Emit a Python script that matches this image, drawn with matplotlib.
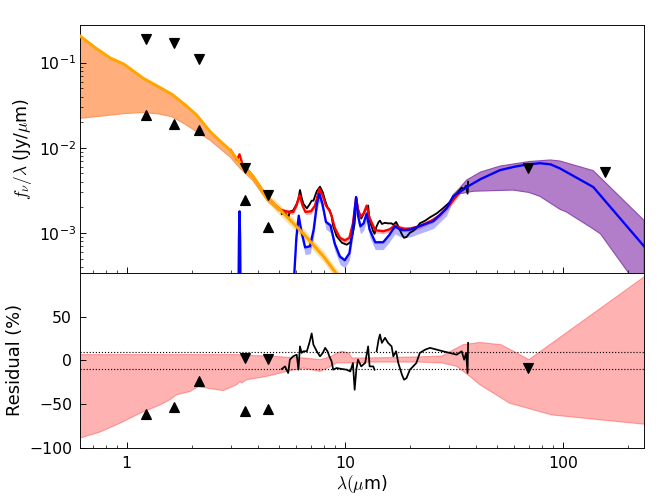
import numpy as np
import matplotlib
matplotlib.use('Agg')
from matplotlib import pyplot as plt
from matplotlib import ticker

plt.rcParams['font.size'] = 13.5
plt.rcParams['mathtext.fontset'] = 'cm'

# stellar component (orange line)
lam_star = [0.61, 0.72, 0.84, 0.965, 1.19, 1.40, 1.61, 1.85, 2.09, 2.41, 2.70, 2.98, 3.31, 3.81,
            4.38, 4.88, 5.5, 6.24, 7.0, 8.0, 9.02, 10.5, 12.0]
star = [0.205, 0.148, 0.113, 0.0966, 0.0655, 0.052, 0.0425, 0.032, 0.0243, 0.0155, 0.0118, 0.0094,
        0.0066, 0.00456, 0.00265, 0.00204, 0.0015, 0.00108, 0.00078, 0.00053, 0.00035, 0.00023, 0.00015]
# lower edge of the wide band at short wavelengths
lam_star_lo = [0.61, 0.75, 1.0, 1.2, 1.4, 1.61, 1.85, 2.09, 2.41, 2.98, 3.3, 3.8, 4.4, 5.0]
star_lo = [0.0222, 0.0235, 0.0254, 0.026, 0.025, 0.0232, 0.019, 0.0155, 0.0123, 0.0078, 0.0058,
           0.0041, 0.0024, 0.0018]
# narrow band at longer wavelengths
lam_star_band = [3.31, 3.81, 4.38, 4.88, 5.5, 6.24, 7.0, 8.0, 9.02, 10.5, 12.0]
star_band_hi = [0.0069, 0.0049, 0.00295, 0.00232, 0.00172, 0.00125, 0.0009, 0.00061, 0.0004, 0.00026, 0.00017]
star_band_lo = [0.0062, 0.0041, 0.00236, 0.00175, 0.0013, 0.00093, 0.00067, 0.00046, 0.0003, 0.0002, 0.00013]

# total model (red line)
lam_tot = [3.0, 3.2, 3.29, 3.38, 3.81, 4.38, 4.88, 5.13, 5.5, 5.8, 6.0, 6.2, 6.4, 6.6, 7.0, 7.3, 7.65,
           7.9, 8.2, 8.5, 8.7, 9.0, 9.5, 10.0, 10.5, 10.9, 11.27, 11.5, 11.8, 12.2, 12.6, 13.0, 13.8,
           15.0, 16.0, 17.0, 18.0, 19.0, 20.0, 22.0, 25.0, 27.3, 30.0, 33.8]
tot = [0.0094, 0.0072, 0.0084, 0.0066, 0.00456, 0.00268, 0.00205, 0.00185, 0.00178, 0.00177, 0.0021,
       0.0028, 0.0021, 0.00177, 0.0018, 0.0021, 0.0033, 0.0028, 0.0021, 0.00185, 0.0016, 0.00115,
       0.00088, 0.00082, 0.00088, 0.0013, 0.0026, 0.0019, 0.00155, 0.0017, 0.0021, 0.0015, 0.00108,
       0.00105, 0.0011, 0.00123, 0.00115, 0.00112, 0.00113, 0.0012, 0.0014, 0.00162, 0.0021, 0.00305]
lam_tot_band = [5.13, 5.5, 5.8, 6.0, 6.2, 6.4, 6.6, 7.0, 7.3, 7.65, 7.9, 8.2, 8.5, 8.7, 9.0, 9.5, 10.0,
                10.5, 10.9, 11.27, 11.5, 11.8, 12.2, 12.6, 13.0, 13.8, 15.0, 16.0, 17.0, 18.0, 19.0,
                20.0, 22.0, 25.0, 27.3, 30.0, 33.8]
tot_hi = [0.00196, 0.00189, 0.00188, 0.00223, 0.00297, 0.00223, 0.00188, 0.00191, 0.00223, 0.0035,
          0.00297, 0.00223, 0.00196, 0.0017, 0.00122, 0.00093, 0.00087, 0.00093, 0.00138, 0.00276,
          0.00201, 0.00164, 0.0018, 0.00223, 0.00159, 0.00114, 0.00111, 0.00117, 0.0013, 0.00122,
          0.00119, 0.0012, 0.00127, 0.00148, 0.00172, 0.00223, 0.00323]
tot_lo = [0.00172, 0.00166, 0.00165, 0.00195, 0.0026, 0.00195, 0.00165, 0.00167, 0.00195, 0.00307,
          0.0026, 0.00195, 0.00172, 0.00149, 0.00107, 0.00082, 0.00076, 0.00082, 0.00121, 0.00242,
          0.00177, 0.00144, 0.00158, 0.00195, 0.0014, 0.001, 0.00098, 0.00102, 0.00114, 0.00107,
          0.00104, 0.00105, 0.00112, 0.0013, 0.00151, 0.00195, 0.00284]

# dust + PAH component (blue line)
lam_dust = [3.0, 3.22, 3.27, 3.29, 3.31, 3.36, 5.6, 5.8, 6.0, 6.15, 6.3, 6.58, 6.93, 7.2, 7.45, 7.65,
            7.9, 8.2, 8.6, 9.0, 9.5, 10.0, 10.5, 10.9, 11.27, 11.5, 11.8, 12.2, 12.6, 13.0, 13.8, 15.0,
            16.0, 17.0, 18.0, 18.6, 20.0, 21.3, 25.5, 29.3, 31.4, 33.8, 36.3, 42.0, 51.5, 60.0, 68.4,
            78.6, 88.0, 97.2, 138.0, 236.0]
dust = [1e-5, 1e-5, 0.0009, 0.0018, 0.0009, 1e-5, 1e-5, 0.0002, 0.0009, 0.0016, 0.0011, 0.00068,
        0.0007, 0.0011, 0.0022, 0.0029, 0.0022, 0.00135, 0.00123, 0.00075, 0.00053, 0.00048, 0.00058,
        0.0011, 0.00265, 0.0016, 0.0012, 0.0013, 0.0017, 0.0011, 0.00078, 0.00078, 0.00095, 0.0012,
        0.0011, 0.00108, 0.0011, 0.00117, 0.00138, 0.00195, 0.0027, 0.00305, 0.00347, 0.0043, 0.00547,
        0.006, 0.00637, 0.0066, 0.0064, 0.00573, 0.00347, 0.0007]
lam_dust_band = [5.8, 6.0, 6.15, 6.3, 6.58, 6.93, 7.2, 7.45, 7.65, 7.9, 8.2, 8.6, 9.0, 9.5, 10.0, 10.5,
                 10.9, 11.27, 11.5, 11.8, 12.2, 12.6, 13.0, 13.8, 15.0, 16.0, 17.0, 18.0, 18.6, 20.0,
                 21.3, 25.5, 29.3, 31.4]
dust_hi = [0.00021, 0.00095, 0.00168, 0.00116, 0.00071, 0.00074, 0.00116, 0.00231, 0.00305, 0.00231,
           0.00142, 0.00129, 0.00079, 0.00056, 0.0005, 0.00061, 0.00116, 0.00278, 0.00168, 0.00126,
           0.00137, 0.00179, 0.00116, 0.00082, 0.00082, 0.001, 0.00126, 0.00116, 0.00113, 0.00116,
           0.00123, 0.00145, 0.00205, 0.00284]
dust_lo = [0.00016, 0.00074, 0.00131, 0.0009, 0.00056, 0.00057, 0.0009, 0.0018, 0.00238, 0.0018,
           0.00111, 0.00101, 0.00062, 0.00043, 0.00039, 0.00048, 0.0009, 0.00217, 0.00131, 0.00098,
           0.00107, 0.00139, 0.0009, 0.00064, 0.00064, 0.00078, 0.00098, 0.0009, 0.00089, 0.0009,
           0.00096, 0.00113, 0.0016, 0.0024]
# far-IR band
lam_fir_hi = [31.4, 33.8, 36.3, 42.0, 51.5, 70.0, 87.7, 97.2, 138.0, 236.0]
fir_hi = [0.0028, 0.0034, 0.0042, 0.0052, 0.0061, 0.0069, 0.0072, 0.0070, 0.0054, 0.00141]
lam_fir_lo = [31.4, 33.8, 39.0, 59.0, 70.0, 78.6, 97.2, 104.0, 138.0, 149.0, 199.0, 236.0]
fir_lo = [0.0026, 0.0029, 0.0031, 0.0032, 0.003, 0.0027, 0.0019, 0.00177, 0.00112, 0.00098, 0.00035, 0.00015]

# IRS spectrum and its residual
lam_irs = [5.14, 5.32, 5.5, 5.6, 5.8, 6.02, 6.13, 6.23, 6.34, 6.46, 6.7, 6.88, 7.05, 7.18, 7.44, 7.7,
           7.93, 8.13, 8.33, 8.5, 8.7, 8.85, 9.17, 9.7, 10.2, 10.6, 10.9, 11.1, 11.3, 11.5, 11.9, 12.4,
           12.8, 13.0, 13.5, 13.7, 13.85, 14.0, 14.3, 14.5, 14.8, 15.3, 15.8, 16.4, 16.7, 17.2, 17.6,
           18.3, 18.7, 19.2, 19.9, 20.6, 21.3, 22.1, 23.4, 24.6, 26.4, 28.2, 30.3, 32.6, 34.4, 35.3,
           36.0, 36.6, 36.8]
irs = [0.00168, 0.00172, 0.00152, 0.00178, 0.00185, 0.0022, 0.0025, 0.0032, 0.0026, 0.0022, 0.00195,
       0.00215, 0.0024, 0.0024, 0.0031, 0.0035, 0.003, 0.0024, 0.002, 0.00188, 0.00158, 0.0012, 0.00092,
       0.00077, 0.00073, 0.00078, 0.001, 0.0013, 0.0026, 0.0019, 0.00148, 0.00185, 0.0021, 0.0014,
       0.00105, 0.00098, 0.0011, 0.0012, 0.00135, 0.0014, 0.00128, 0.00132, 0.0013, 0.0013, 0.00125,
       0.00135, 0.0012, 0.00096, 0.00088, 0.0009, 0.00101, 0.00106, 0.00114, 0.0013, 0.0014, 0.00153,
       0.0017, 0.00195, 0.0023, 0.0029, 0.0034, 0.0033, 0.0036, 0.0029, 0.004]
res_irs = [-9.9, -6.9, -14.5, 0.8, 4.6, 6.5, -10.7, 16, 8.5, 10.4, 10.4, 20, 30.8, 18, 10.4, 4.6, 8.5,
           14.3, 10.4, 4.6, -1.1, -10.7, -8.8, -9.9, -10.7, -12.7, -3, -33.7, -10.7, 0.8, -6.9, -3, 16,
           -6.9, -6.9, -10.7, np.nan, 10.4, 23.8, 29.6, 20, 25.8, 20, 16, 4.6, 10.4, -3, -16.5, -22.2,
           -20.3, -10.7, -6.9, -3, 8.5, 12.3, 14.3, 12.3, 10.4, 8.5, 6.5, 10.4, 0.8, 8.5, -14.5, 20]

# residual band of the model
lam_res_hi = [0.61, 3.2, 3.5, 4.5, 5.5, 6.5, 7.7, 8.7, 9.2, 9.7, 10.4, 10.8, 13.0, 22.0, 28.0, 31.4,
              35.0, 41.6, 52.0, 60.0, 70.0, 240.0]
res_hi = [6.6, 6.6, 5.8, 5.0, 3.5, 2.8, 0.8, 4.6, 8.5, 10.4, 8.5, 2.8, 2.8, 4.0, 5.0, 12.0, 18.0,
          20.5, 18.0, 10.0, 0.8, 96.8]
lam_res_lo = [0.61, 0.755, 0.93, 1.15, 1.42, 1.58, 1.69, 1.95, 2.13, 2.33, 2.77, 3.19, 3.31, 3.36,
              3.55, 4.38, 5.42, 6.46, 7.7, 8.33, 9.17, 11.3, 13.0, 22.0, 28.0, 32.6, 37.5, 41.7, 57.0,
              89.0, 240.0]
res_lo = [-89, -82, -72, -60.6, -51, -45, -39.5, -35.7, -30, -31.8, -34.6, -28, -24.2, -26, -22.2,
          -18.4, -12.7, -8.8, -12.7, -8.8, -3, -3, -2, -2, -3, -6.9, -18.4, -28, -49, -62.5, -73.3]

# photometry
lam_phot_dn = [1.22, 1.65, 2.15, 3.5, 4.45, 69.0, 157.0]
phot_dn = [0.188, 0.172, 0.11, 0.00573, 0.00278, 0.00582, 0.00523]
lam_phot_up = [1.22, 1.65, 2.15, 3.5, 4.45]
phot_up = [0.0243, 0.019, 0.0161, 0.00243, 0.00118]
res_phot_dn_lam = [3.5, 4.45, 69.0]
res_phot_dn = [2.8, 1.6, -8.8]
res_phot_up = [-61.4, -53, -24.2, -57.6, -56]

fig = plt.figure(figsize=(8, 6), dpi=83)
ax1 = fig.add_axes([0.1205, 0.4518, 0.8494, 0.499])
ax2 = fig.add_axes([0.1205, 0.101, 0.8494, 0.3508], sharex=ax1)

lam_star_a = np.array(lam_star)
star_a = np.array(star)
m = lam_star_a <= 5.0
px = np.concatenate([lam_star_a[m], lam_star_lo[::-1]])
py = np.concatenate([star_a[m], star_lo[::-1]])
ax1.fill(px, py, facecolor='#ffae7c', edgecolor='#f99a5e', lw=1, zorder=1)
ax1.fill_between(lam_star_band, star_band_lo, star_band_hi, color='orange', alpha=0.35, lw=0, zorder=1)
ax1.fill_between(lam_tot_band, tot_lo, tot_hi, color='r', alpha=0.3, lw=0, zorder=1)
ax1.fill_between(lam_dust_band, dust_lo, dust_hi, color='b', alpha=0.3, lw=0, zorder=1)
fx = np.concatenate([lam_fir_hi, lam_fir_lo[::-1]])
fy = np.concatenate([fir_hi, fir_lo[::-1]])
ax1.fill(fx, fy, facecolor='#b27dc9', edgecolor='#8e4fb0', lw=1, zorder=1)

ax1.plot(lam_irs, irs, 'k-', lw=1.6, zorder=2)
ax1.plot(lam_tot, tot, 'r-', lw=2, zorder=3)
ax1.plot(lam_dust, dust, 'b-', lw=2, zorder=4)
ax1.plot(lam_star, star, '-', color='orange', lw=2.6, zorder=5)
ax1.plot(lam_phot_dn, phot_dn, 'kv', ms=8, zorder=6)
ax1.plot(lam_phot_up, phot_up, 'k^', ms=8, zorder=6)

ax1.set_xscale('log')
ax1.set_yscale('log')
ax1.set_xlim(0.61, 236)
ax1.set_ylim(3.4e-4, 0.28)
ax1.set_ylabel(r'$f_\nu/\lambda$ (Jy/$\mu$m)', fontsize=15)
plt.setp(ax1.get_xticklabels(), visible=False)

rx = np.concatenate([lam_res_hi, lam_res_lo[::-1]])
ry = np.concatenate([res_hi, res_lo[::-1]])
ax2.fill(rx, ry, facecolor='r', edgecolor='r', alpha=0.3, lw=1)
ax2.axhline(10, color='k', ls=':', lw=1)
ax2.axhline(-10, color='k', ls=':', lw=1)
ax2.plot(lam_irs, res_irs, 'k-', lw=1.5)
ax2.plot(res_phot_dn_lam, res_phot_dn, 'kv', ms=8)
ax2.plot(lam_phot_up, res_phot_up, 'k^', ms=8)
ax2.set_ylim(-100, 100)
ax2.set_yticks([-100, -50, 0, 50])
ax2.set_ylabel('Residual (%)', fontsize=15.5)
ax2.set_xlabel(r'$\lambda(\mu$m)', fontsize=15, labelpad=2)
ax2.xaxis.set_major_formatter(ticker.FuncFormatter(lambda v, p: '%g' % v))
ax2.xaxis.set_minor_formatter(ticker.NullFormatter())

for ax in (ax1, ax2):
    ax.tick_params(which='both', direction='in')
    ax.tick_params(which='major', length=5)
    ax.tick_params(which='minor', length=2.5)
ax2.tick_params(axis='x', which='major', pad=7)
ax2.tick_params(axis='y', which='major', pad=7)

fig.savefig('out.png', dpi=83)
